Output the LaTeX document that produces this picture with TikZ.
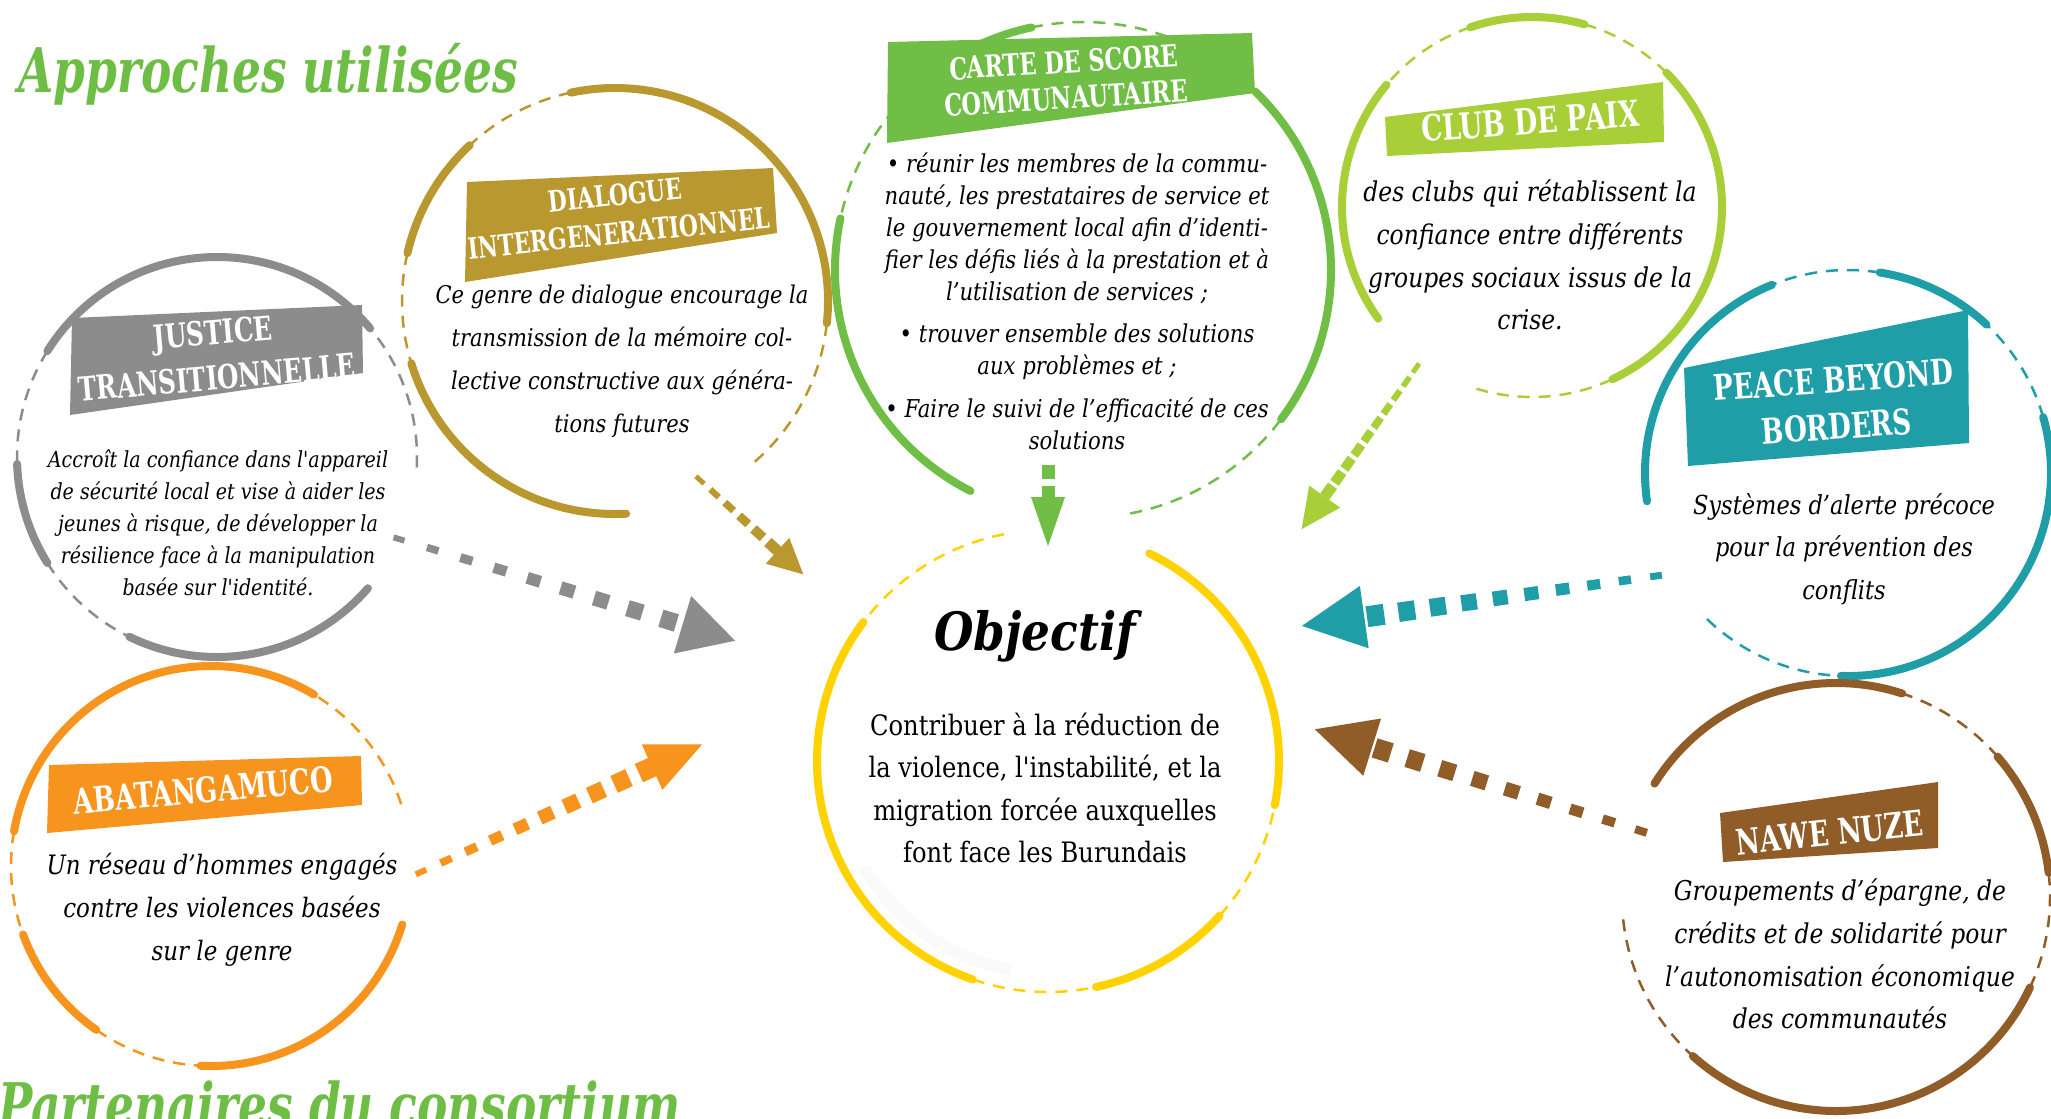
\documentclass[tikz,border=0pt]{standalone}
\usepackage{fontspec}
\newfontfamily\bodyfont{DejaVu Serif}[FakeStretch=0.86]
\newfontfamily\labelfont{DejaVu Serif}[FakeStretch=0.74]
\usetikzlibrary{shapes.geometric,calc,positioning}
\definecolor{jtgray}{RGB}{140,140,140}
\definecolor{diggold}{RGB}{186,152,48}
\definecolor{cscgreen}{RGB}{112,190,70}
\definecolor{cdplime}{RGB}{168,206,56}
\definecolor{pbbteal}{RGB}{32,158,168}
\definecolor{nnbrown}{RGB}{144,92,40}
\definecolor{abaorange}{RGB}{247,148,30}
\definecolor{objyellow}{RGB}{255,210,0}
\definecolor{titlegreen}{RGB}{110,190,70}
\tikzset{poster layout/.style={%
    x=0.2mm,%
    y=-0.2mm,%
    every node/.style={inner sep=0pt}%
}}
\tikzset{ring solid/.style={line width=1.6mm, line cap=round}}
\tikzset{ring dashed/.style={line width=0.5mm, dash pattern=on 2.4mm off 1.8mm}}
\tikzset{banner text/.style 2 args={%
    text=white, align=center,%
    font=\labelfont\bfseries\fontsize{#1}{#2}\selectfont%
}}
\tikzset{body text/.style 2 args={%
    align=center,%
    font=\bodyfont\itshape\fontsize{#1}{#2}\selectfont%
}}
\tikzset{title text/.style={%
    text=titlegreen, anchor=base west,%
    font=\labelfont\bfseries\itshape\fontsize{35}{40}\selectfont%
}}
\tikzset{dash block/.style={sloped, allow upside down, rectangle}}
\tikzset{arrow head/.style={%
    sloped, allow upside down, isosceles triangle,%
    isosceles triangle stretches, anchor=apex%
}}

\begin{document}
\begin{tikzpicture}[poster layout]
    \useasboundingbox (0,0) rectangle (2051,1118);

    % circle centres
    \coordinate (jt) at (217,457);
    \coordinate (dig) at (615,301);
    \coordinate (csc) at (1083,270);
    \coordinate (cdp) at (1532,207);
    \coordinate (pbb) at (1848,473);
    \coordinate (nn) at (1836,897);
    \coordinate (aba) at (211,866);
    \coordinate (obj) at (1048,761);

    % rings: thick arcs, then thin dashed arcs
    \foreach \a/\b in {-40/-148, -182/-212, -244/-319}
        \draw[ring solid, jtgray] ($(jt)+(\a:200)$) arc[start angle=\a, end angle=\b, radius=200];
    \foreach \a/\b in {-148/-182, -212/-244, 3/-40}
        \draw[ring dashed, jtgray] ($(jt)+(\a:200)$) arc[start angle=\a, end angle=\b, radius=200];

    \foreach \a/\b in {6/-102, -133/-167, -197/-273}
        \draw[ring solid, diggold] ($(dig)+(\a:213)$) arc[start angle=\a, end angle=\b, radius=213];
    \foreach \a/\b in {-102/-133, -167/-197, 49/6}
        \draw[ring dashed, diggold] ($(dig)+(\a:213)$) arc[start angle=\a, end angle=\b, radius=213];

    \foreach \a/\b in {-102/-125, 37/-46, -168/-243}
        \draw[ring solid, cscgreen] ($(csc)+(\a:248)$) arc[start angle=\a, end angle=\b, radius=248];
    \foreach \a/\b in {-46/-102, 79/37, -125/-168}
        \draw[ring dashed, cscgreen] ($(csc)+(\a:248)$) arc[start angle=\a, end angle=\b, radius=248];

    \foreach \a/\b in {-74/-109, 65/-45, -140/-216}
        \draw[ring solid, cdplime] ($(cdp)+(\a:190)$) arc[start angle=\a, end angle=\b, radius=190];
    \foreach \a/\b in {-45/-74, 107/65, -109/-140}
        \draw[ring dashed, cdplime] ($(cdp)+(\a:190)$) arc[start angle=\a, end angle=\b, radius=190];

    \foreach \a/\b in {-112/-188, -47/-81, 92/-16}
        \draw[ring solid, pbbteal] ($(pbb)+(\a:203)$) arc[start angle=\a, end angle=\b, radius=203];
    \foreach \a/\b in {-81/-112, -16/-47, -226/-268}
        \draw[ring dashed, pbbteal] ($(pbb)+(\a:203)$) arc[start angle=\a, end angle=\b, radius=203];

    \foreach \a/\b in {-72/-148, -6.5/-41, -228/-335}
        \draw[ring solid, nnbrown] ($(nn)+(\a:214)$) arc[start angle=\a, end angle=\b, radius=214];
    \foreach \a/\b in {-41/-72, 25/-6.5, -186/-228}
        \draw[ring dashed, nnbrown] ($(nn)+(\a:214)$) arc[start angle=\a, end angle=\b, radius=214];

    \foreach \a/\b in {-59/-170, -200/-235, -267/-343}
        \draw[ring solid, abaorange] ($(aba)+(\a:200)$) arc[start angle=\a, end angle=\b, radius=200];
    \foreach \a/\b in {-18/-59, -170/-200, -235/-267}
        \draw[ring dashed, abaorange] ($(aba)+(\a:200)$) arc[start angle=\a, end angle=\b, radius=200];

    \draw[gray!4, line width=2.5mm] ($(obj)+(150:212)$) arc[start angle=150, end angle=100, radius=212];
    \foreach \a/\b in {11/-64, 78/42, -143/-251}
        \draw[ring solid, objyellow] ($(obj)+(\a:231)$) arc[start angle=\a, end angle=\b, radius=231];
    \foreach \a/\b in {42/11, -251/-282, -101/-143}
        \draw[ring dashed, objyellow] ($(obj)+(\a:231)$) arc[start angle=\a, end angle=\b, radius=231];

    % banners
    \fill[jtgray] (72,318) -- (362,305) -- (363,373) -- (70,415) -- cycle;
    \fill[diggold] (467,182) -- (773,168) -- (777,233) -- (465,282) -- cycle;
    \fill[cscgreen] (888,42) -- (1252,33) -- (1255,93) -- (887,143) -- cycle;
    \fill[cdplime] (1385,117) -- (1663,82) -- (1664,142) -- (1387,156) -- cycle;
    \fill[pbbteal] (1684,368) -- (1968,310) -- (1969,443) -- (1688,466) -- cycle;
    \fill[nnbrown] (1720,813) -- (1938,782) -- (1938,848) -- (1723,862) -- cycle;
    \fill[abaorange] (49,765) -- (361,756) -- (362,805) -- (47,833) -- cycle;

    \node[banner text={18.9}{25.6}, rotate=5] (jt-label) at (215,355) {JUSTICE\\TRANSITIONNELLE};
    \node[banner text={16.7}{21.6}, rotate=6] (dig-label) at (617,214) {DIALOGUE\\INTERGENERATIONNEL};
    \node[banner text={17.3}{20.5}, rotate=3.5] (csc-label) at (1065,80) {CARTE DE SCORE\\COMMUNAUTAIRE};
    \node[banner text={20.5}{22}, rotate=4] (cdp-label) at (1530,121) {CLUB DE PAIX};
    \node[banner text={20.1}{26.7}, rotate=4] (pbb-label) at (1835,403) {PEACE BEYOND\\BORDERS};
    \node[banner text={20.2}{22}, rotate=6] (nn-label) at (1830,833) {NAWE NUZE};
    \node[banner text={20}{22}, rotate=5] (aba-label) at (203,790) {ABATANGAMUCO};

    % texts
    \node[body text={12.6}{18.2}] (jt-text) at (218,523) {Accroît la confiance dans l'appareil\\de sécurité local et vise à aider les\\jeunes à risque, de développer la\\résilience face à la manipulation\\basée sur l'identité.};
    \node[body text={13.9}{24.5}] (dig-text) at (622,361) {Ce genre de dialogue encourage la\\transmission de la mémoire  col-\\lective constructive aux généra-\\tions futures};
    \node[body text={14}{18.2}] (csc-text) at (1077,301) {• réunir les membres de la commu-\\nauté, les prestataires de service et\\le gouvernement local afin d’identi-\\fier les défis liés à la prestation et à\\l’utilisation de services ;\\[6pt]• trouver ensemble des solutions\\aux problèmes et ;\\[6pt]• Faire le suivi de l’efficacité de ces\\solutions};
    \node[body text={15.5}{24.3}] (cdp-text) at (1530,255) {des clubs qui rétablissent la\\confiance entre différents\\groupes sociaux issus de la\\crise.};
    \node[body text={14.9}{24.3}] (pbb-text) at (1844,549) {Systèmes d’alerte précoce\\pour la prévention des\\conflits};
    \node[body text={15.5}{24.3}] (nn-text) at (1840,954) {Groupements d’épargne, de\\crédits et de solidarité pour\\l’autonomisation économique\\des communautés};
    \node[body text={15.2}{24.5}] (aba-text) at (222,910) {Un réseau d’hommes engagés\\contre les violences basées\\sur le genre};

    \node[anchor=base, font=\bodyfont\bfseries\itshape\fontsize{30}{36}\selectfont] (obj-title) at (1035,650) {Objectif};
    \node[align=center, font=\bodyfont\fontsize{16}{24}\selectfont] (obj-text) at (1045,788) {Contribuer à la réduction de\\la violence, l'instabilité, et la\\migration forcée auxquelles\\font face les Burundais};

    % arrows towards the objective
    \coordinate (jt-out) at (399,539);    \coordinate (jt-tip) at (736,641);
    \coordinate (dig-out) at (700,480);   \coordinate (dig-tip) at (804,575);
    \coordinate (csc-out) at (1048,472);  \coordinate (csc-tip) at (1048,547);
    \coordinate (cdp-out) at (1416,368);  \coordinate (cdp-tip) at (1301,530);
    \coordinate (pbb-out) at (1656,576);  \coordinate (pbb-tip) at (1301,626);
    \coordinate (nn-out) at (1641,831);   \coordinate (nn-tip) at (1314,729);
    \coordinate (aba-out) at (421,872);   \coordinate (aba-tip) at (703,744);

    \foreach \src/\col/\n/\stop/\wa/\wb/\hl/\hw in {%
        jt/jtgray/9/0.80/6/18/60/55,%
        dig/diggold/6/0.70/5/11/35/35,%
        csc/cscgreen/2/0.28/13/13/34/49,%
        cdp/cdplime/10/0.76/5/11/38/40,%
        pbb/pbbteal/10/0.79/7/21/63/63,%
        nn/nnbrown/9/0.79/8/20/60/60,%
        aba/abaorange/10/0.80/6/20/50/55%
    }{
        \foreach \i in {1,...,\n}{
            \pgfmathsetmacro{\t}{(\i-1)/(\n-1)*\stop}
            \pgfmathsetmacro{\w}{0.2*(\wa+(\wb-\wa)*(\i-1)/(\n-1))}
            \pgfmathsetmacro{\l}{0.4*\w+1.8}
            \path (\src-out) -- (\src-tip) node[dash block, pos=\t, fill=\col, minimum width=\l mm, minimum height=\w mm] (\src-d\i) {};
        }
        \pgfmathsetmacro{\hlmm}{0.2*\hl}
        \pgfmathsetmacro{\hwmm}{0.2*\hw}
        \path (\src-out) -- (\src-tip) node[arrow head, pos=1, fill=\col, minimum width=\hlmm mm, minimum height=\hwmm mm] (\src-head) {};
    }

    % headings
    \node[title text] (approches) at (18,92) {Approches utilisées};
    \node[title text] (partenaires) at (-2,1127) {Partenaires du consortium};
\end{tikzpicture}
\end{document}
